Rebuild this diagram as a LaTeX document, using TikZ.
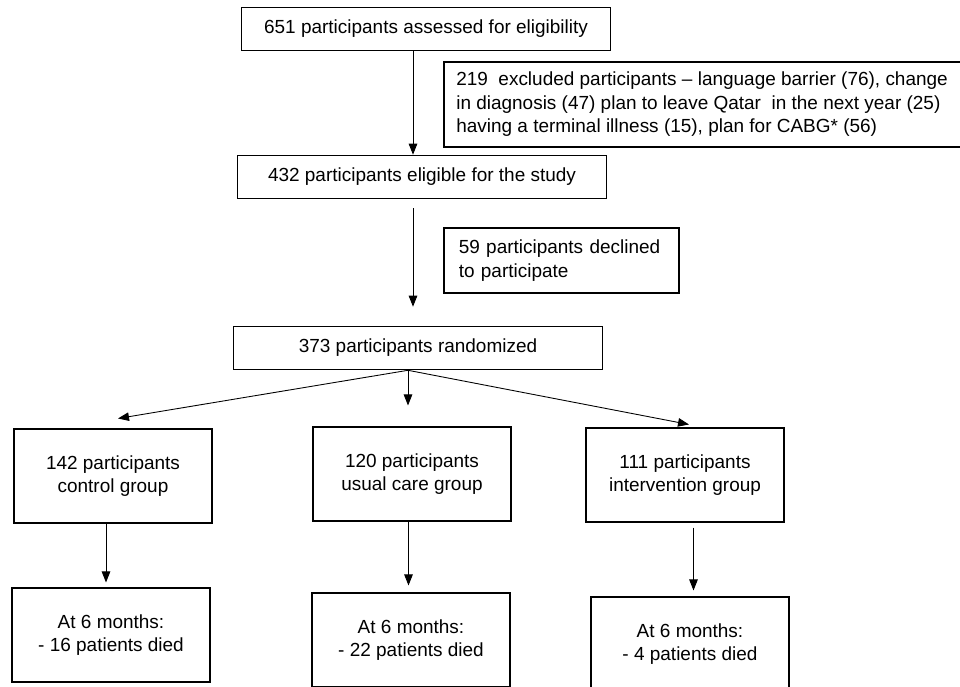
\documentclass[tikz,border=0pt]{standalone}
\usepackage{fontspec}
\setmainfont{Liberation Sans}
\usetikzlibrary{arrows.meta}

\begin{document}
\begin{tikzpicture}[every node/.style={draw, line width=0.9pt, inner sep=0pt, font=\fontsize{10.8}{13.5}\selectfont},
    wide/.style={minimum width=7.38cm, minimum height=0.86cm},
    group/.style={align=center, minimum width=3.96cm, minimum height=1.87cm},
    note/.style={align=left, anchor=north west},
    arr/.style={-{Triangle[length=0.22cm, width=0.17cm]}, line width=0.5pt}]
            \def \px {0.02}
            \fill[white] (0,0) rectangle (960*\px, -686*\px);
            \useasboundingbox (0,0) rectangle (960*\px, -686*\px);
            % flow down the middle
            \node[wide] (assess) at (426*\px, -29*\px) {651 participants assessed for eligibility};
            \node[note, inner xsep=0.25cm, minimum width=10.3cm, minimum height=1.7cm] (excl) at (443*\px, -61*\px)
                {219~ excluded participants – language barrier (76), change\\
                 in diagnosis (47) plan to leave Qatar~ in the next year (25)\\
                 having a terminal illness (15), plan for CABG* (56)};
            \node[wide] (elig) at (422*\px, -177*\px) {432 participants eligible for the study};
            \node[note, text width=4.1cm, inner xsep=0.3cm, minimum height=1.3cm] (decl) at (443*\px, -227*\px)
                {59 participants declined\\ to participate};
            \node[wide] (rand) at (418*\px, -348*\px) {373 participants randomized};
            % the three arms
            \node[group] (ctrl) at (113*\px, -476*\px) {142 participants\\ control group};
            \node[group] (usual) at (412*\px, -474*\px) {120 participants\\ usual care group};
            \node[group] (interv) at (685*\px, -475*\px) {111 participants\\ intervention group};
            \node[group] (cbot) at (111*\px, -635*\px) {At 6 months:\\ - 16 patients died};
            \node[group] (ubot) at (411*\px, -640*\px) {At 6 months:\\ - 22 patients died};
            \node[group] (ibot) at (690*\px, -644*\px) {At 6 months:\\ - 4 patients died};
            \coordinate (split) at ([xshift=-0.2cm]rand.south);
            \draw[arr] ([xshift=-0.26cm]assess.south) -- ([xshift=-0.26cm]assess.south |- elig.north);
            \draw[arr, shorten <=0.18cm, shorten >=0.38cm] ([xshift=-0.18cm]elig.south) -- ([xshift=-0.18cm]elig.south |- rand.north);
            \draw[arr] (split) -- ([xshift=0.1cm, yshift=0.2cm]ctrl.north);
            \draw[arr, shorten >=0.42cm] (split) -- (split |- usual.north);
            \draw[arr] (split) -- ([xshift=0.08cm, yshift=0.06cm]interv.north);
            \draw[arr, shorten >=0.1cm] ([xshift=-0.14cm]ctrl.south) -- ([xshift=-0.14cm]ctrl.south |- cbot.north);
            \draw[arr, shorten >=0.14cm] ([xshift=-0.07cm]usual.south) -- ([xshift=-0.07cm]usual.south |- ubot.north);
            \draw[arr, shorten <=0.1cm, shorten >=0.12cm] ([xshift=0.17cm]interv.south) -- ([xshift=0.17cm]interv.south |- ibot.north);
        \end{tikzpicture}
\end{document}
